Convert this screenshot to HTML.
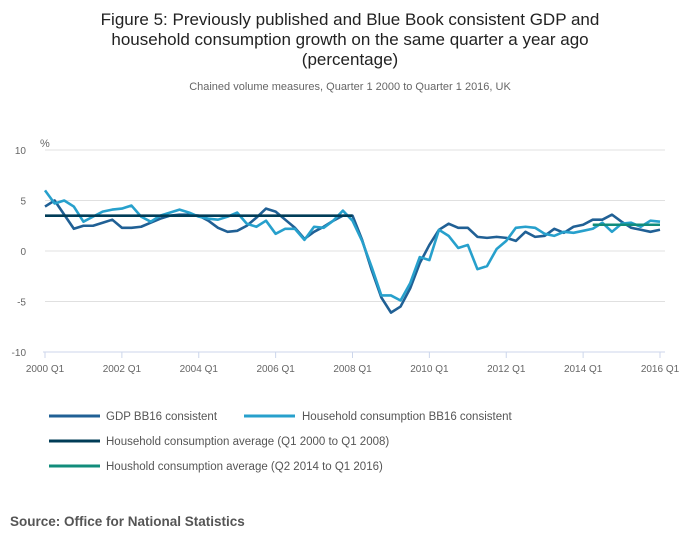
<!DOCTYPE html>
<html><head><meta charset="utf-8"><style>
body{margin:0;background:#fff;font-family:"Liberation Sans",sans-serif;}
#wrap{position:relative;width:700px;height:549px;overflow:hidden;}
</style></head><body>
<div id="wrap">
<svg id="chart" width="700" height="549" xmlns="http://www.w3.org/2000/svg">
<text x="350" y="25" text-anchor="middle" font-size="17" fill="#222">Figure 5: Previously published and Blue Book consistent GDP and</text>
<text x="350" y="45" text-anchor="middle" font-size="17" fill="#222">household consumption growth on the same quarter a year ago</text>
<text x="350" y="65" text-anchor="middle" font-size="17" fill="#222">(percentage)</text>
<text x="350" y="90" text-anchor="middle" font-size="11" fill="#666">Chained volume measures, Quarter 1 2000 to Quarter 1 2016, UK</text>
<text x="40" y="147" font-size="11" fill="#666">%</text>
<g id="grid"></g><g id="axes"></g><g id="series"></g>
<g>
<line x1="49" y1="416" x2="100" y2="416" stroke="#206095" stroke-width="3"/>
<text x="106" y="420" font-size="11.5" fill="#555">GDP BB16 consistent</text>
<line x1="244" y1="416" x2="295" y2="416" stroke="#27a0cc" stroke-width="3"/>
<text x="302" y="420" font-size="11.5" fill="#555">Household consumption BB16 consistent</text>
<line x1="49" y1="441" x2="100" y2="441" stroke="#003c57" stroke-width="3"/>
<text x="106" y="445" font-size="11.5" fill="#555">Household consumption average (Q1 2000 to Q1 2008)</text>
<line x1="49" y1="466" x2="100" y2="466" stroke="#118c7b" stroke-width="3"/>
<text x="106" y="470" font-size="11.5" fill="#555">Houshold consumption average (Q2 2014 to Q1 2016)</text>
</g>
<text x="10" y="526" font-size="13.5" font-weight="bold" fill="#555">Source: Office for National Statistics</text>
</svg>
</div>
<script>
const yTicks=[10,5,0,-5,-10];
const xTickLabels=["2000 Q1","2002 Q1","2004 Q1","2006 Q1","2008 Q1","2010 Q1","2012 Q1","2014 Q1","2016 Q1"];
const gdp=[4.4,5.0,3.6,2.2, 2.5,2.5,2.8,3.1, 2.3,2.3,2.4,2.8, 3.2,3.5,3.6,3.6, 3.5,3.0,2.3,1.9, 2.0,2.5,3.3,4.2, 3.9,3.1,2.3,1.2, 1.9,2.4,3.0,3.5, 3.5,1.1,-1.9,-4.6, -6.1,-5.5,-3.7,-1.2, 0.6,2.1,2.7,2.3, 2.3,1.4,1.3,1.4, 1.3,1.0,1.9,1.4, 1.5,2.2,1.8,2.4, 2.6,3.1,3.1,3.6, 2.9,2.3,2.1,1.9, 2.1];
const household=[6.0,4.7,5.0,4.4, 2.9,3.4,3.9,4.1, 4.2,4.5,3.4,2.9, 3.5,3.8,4.1,3.8, 3.4,3.2,3.1,3.4, 3.8,2.7,2.4,3.0, 1.7,2.2,2.2,1.1, 2.4,2.3,3.0,4.0, 3.0,1.0,-1.6,-4.4, -4.4,-4.9,-3.2,-0.6, -0.9,2.1,1.5,0.3, 0.6,-1.8,-1.5,0.2, 1.0,2.3,2.4,2.3, 1.7,1.5,1.9,1.8, 2.0,2.2,2.8,1.9, 2.7,2.8,2.4,3.0, 2.9];
const avg1=[0,32,3.5];
const avg2=[57,64,2.6];
const NS='http://www.w3.org/2000/svg';
const x0=45,x1=660,yTop=150,yBot=352;
const xs=i=>x0+(x1-x0)*i/64;
const ys=v=>yTop+(10-v)/20*(yBot-yTop);
function mk(t,a,p){const e=document.createElementNS(NS,t);for(const k in a)e.setAttribute(k,a[k]);p.appendChild(e);return e;}
const grid=document.getElementById('grid'),axes=document.getElementById('axes'),ser=document.getElementById('series');
yTicks.forEach(v=>{
 if(v!==-10){const l=mk('line',{x1:x0,x2:665,y1:ys(v),y2:ys(v),stroke:'#e0e0e0','stroke-width':1},grid);
 
 }
 const t=mk('text',{x:26,y:ys(v)+4,'font-size':10,fill:'#666','text-anchor':'end'},axes);
 t.textContent=v;
 
 
});
const ax=mk('line',{x1:x0-2,x2:665,y1:yBot,y2:yBot,stroke:'#ccd6eb','stroke-width':1},axes);


xTickLabels.forEach((s,i)=>{
 const x=xs(i*8);
 const tk=mk('line',{x1:x,x2:x,y1:yBot,y2:yBot+6,stroke:'#ccd6eb'},axes);
 
 
 const t=mk('text',{x:x,y:yBot+20,'font-size':10,fill:'#666','text-anchor':'middle'},axes);
 t.textContent=s;
 
 
});
function line(data,color,name){
 const p=mk('polyline',{points:data.map((v,i)=>xs(i)+','+ys(v)).join(' '),fill:'none',stroke:color,'stroke-width':2.6,'stroke-linejoin':'round'},ser);
 
 
}
line(gdp,'#206095','gdp-line');
line(household,'#27a0cc','household-consumption-line');
const a1=mk('line',{x1:xs(avg1[0]),x2:xs(avg1[1]),y1:ys(avg1[2]),y2:ys(avg1[2]),stroke:'#003c57','stroke-width':2.6},ser);


const a2=mk('line',{x1:xs(avg2[0]),x2:xs(avg2[1]),y1:ys(avg2[2]),y2:ys(avg2[2]),stroke:'#118c7b','stroke-width':2.6},ser);


</script>
</body></html>
